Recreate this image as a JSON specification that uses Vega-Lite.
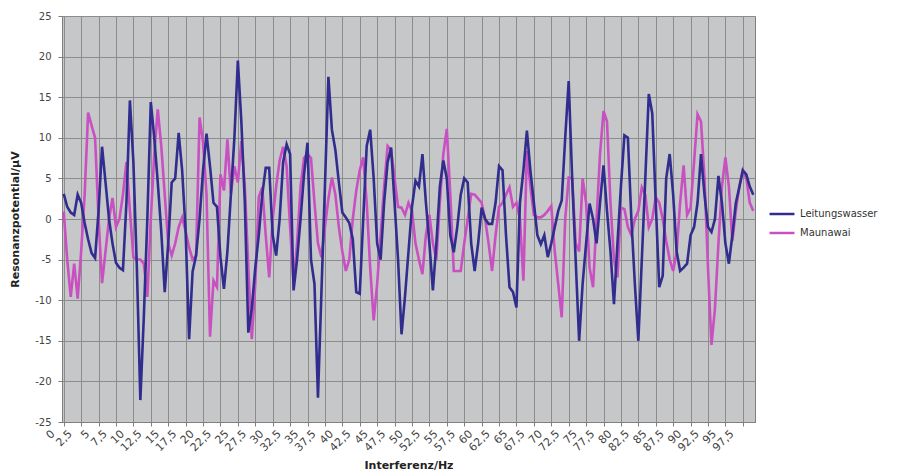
{
  "$schema": "https://vega.github.io/schema/vega-lite/v6.json",
  "width": 693,
  "height": 406,
  "autosize": {"type": "none"},
  "padding": {"left": 62, "top": 16, "right": 145, "bottom": 49},
  "background": "white",
  "config": {
    "view": {"fill": "#c6c7c9", "stroke": "#7f7f7f", "strokeWidth": 1},
    "font": "DejaVu Sans"
  },
  "data": {"values": [
    {"Hz":0,"Leitungswasser":3.1,"Maunawai":0.9},
    {"Hz":0.5,"Leitungswasser":1.5,"Maunawai":-5},
    {"Hz":1,"Leitungswasser":0.8,"Maunawai":-9.6},
    {"Hz":1.5,"Leitungswasser":0.5,"Maunawai":-5.5},
    {"Hz":2,"Leitungswasser":3.0,"Maunawai":-9.8},
    {"Hz":2.5,"Leitungswasser":2.0,"Maunawai":-4},
    {"Hz":3,"Leitungswasser":-0.5,"Maunawai":3},
    {"Hz":3.5,"Leitungswasser":-2.5,"Maunawai":13.1},
    {"Hz":4,"Leitungswasser":-4.2,"Maunawai":11.5},
    {"Hz":4.5,"Leitungswasser":-4.8,"Maunawai":10},
    {"Hz":5,"Leitungswasser":1,"Maunawai":0},
    {"Hz":5.5,"Leitungswasser":8.9,"Maunawai":-7.9},
    {"Hz":6,"Leitungswasser":4.5,"Maunawai":-4},
    {"Hz":6.5,"Leitungswasser":0,"Maunawai":0},
    {"Hz":7,"Leitungswasser":-3,"Maunawai":2.6},
    {"Hz":7.5,"Leitungswasser":-5.4,"Maunawai":-1},
    {"Hz":8,"Leitungswasser":-6,"Maunawai":0},
    {"Hz":8.5,"Leitungswasser":-6.3,"Maunawai":3},
    {"Hz":9,"Leitungswasser":2,"Maunawai":7},
    {"Hz":9.5,"Leitungswasser":14.6,"Maunawai":1},
    {"Hz":10,"Leitungswasser":7,"Maunawai":-4.7},
    {"Hz":10.5,"Leitungswasser":-6,"Maunawai":-5},
    {"Hz":11,"Leitungswasser":-22.3,"Maunawai":-5},
    {"Hz":11.5,"Leitungswasser":-12,"Maunawai":-5.5},
    {"Hz":12,"Leitungswasser":0,"Maunawai":-9.6},
    {"Hz":12.5,"Leitungswasser":14.4,"Maunawai":0},
    {"Hz":13,"Leitungswasser":10,"Maunawai":8},
    {"Hz":13.5,"Leitungswasser":4.5,"Maunawai":13.5},
    {"Hz":14,"Leitungswasser":-1.5,"Maunawai":9},
    {"Hz":14.5,"Leitungswasser":-9,"Maunawai":3},
    {"Hz":15,"Leitungswasser":-3,"Maunawai":-3},
    {"Hz":15.5,"Leitungswasser":4.5,"Maunawai":-4.5},
    {"Hz":16,"Leitungswasser":5,"Maunawai":-3},
    {"Hz":16.5,"Leitungswasser":10.6,"Maunawai":-1},
    {"Hz":17,"Leitungswasser":6,"Maunawai":0.2},
    {"Hz":17.5,"Leitungswasser":-1.5,"Maunawai":-1.5},
    {"Hz":18,"Leitungswasser":-14.8,"Maunawai":-3.5},
    {"Hz":18.5,"Leitungswasser":-6.5,"Maunawai":-5},
    {"Hz":19,"Leitungswasser":-4.5,"Maunawai":-4.5},
    {"Hz":19.5,"Leitungswasser":0,"Maunawai":12.5},
    {"Hz":20,"Leitungswasser":6,"Maunawai":9.5},
    {"Hz":20.5,"Leitungswasser":10.5,"Maunawai":3},
    {"Hz":21,"Leitungswasser":6.5,"Maunawai":-14.5},
    {"Hz":21.5,"Leitungswasser":2,"Maunawai":-7.6},
    {"Hz":22,"Leitungswasser":1.5,"Maunawai":-8.4},
    {"Hz":22.5,"Leitungswasser":-4.7,"Maunawai":5.5},
    {"Hz":23,"Leitungswasser":-8.6,"Maunawai":3.5},
    {"Hz":23.5,"Leitungswasser":-4,"Maunawai":9.8},
    {"Hz":24,"Leitungswasser":3,"Maunawai":3.1},
    {"Hz":24.5,"Leitungswasser":10,"Maunawai":6.5},
    {"Hz":25,"Leitungswasser":19.5,"Maunawai":4.5},
    {"Hz":25.5,"Leitungswasser":12,"Maunawai":9.6},
    {"Hz":26,"Leitungswasser":2,"Maunawai":4},
    {"Hz":26.5,"Leitungswasser":-14,"Maunawai":-6},
    {"Hz":27,"Leitungswasser":-11,"Maunawai":-14.8},
    {"Hz":27.5,"Leitungswasser":-6,"Maunawai":-8},
    {"Hz":28,"Leitungswasser":-2,"Maunawai":2.7},
    {"Hz":28.5,"Leitungswasser":3,"Maunawai":3.9},
    {"Hz":29,"Leitungswasser":6.3,"Maunawai":-2},
    {"Hz":29.5,"Leitungswasser":6.3,"Maunawai":-7.2},
    {"Hz":30,"Leitungswasser":-2,"Maunawai":0},
    {"Hz":30.5,"Leitungswasser":-4.5,"Maunawai":4},
    {"Hz":31,"Leitungswasser":0,"Maunawai":7.2},
    {"Hz":31.5,"Leitungswasser":7,"Maunawai":8.9},
    {"Hz":32,"Leitungswasser":9.2,"Maunawai":6.5},
    {"Hz":32.5,"Leitungswasser":8,"Maunawai":-1},
    {"Hz":33,"Leitungswasser":-8.8,"Maunawai":-8},
    {"Hz":33.5,"Leitungswasser":-5,"Maunawai":-3},
    {"Hz":34,"Leitungswasser":0,"Maunawai":4},
    {"Hz":34.5,"Leitungswasser":5.5,"Maunawai":7.5},
    {"Hz":35,"Leitungswasser":9.4,"Maunawai":8},
    {"Hz":35.5,"Leitungswasser":-5,"Maunawai":7.5},
    {"Hz":36,"Leitungswasser":-8,"Maunawai":2},
    {"Hz":36.5,"Leitungswasser":-22,"Maunawai":-3},
    {"Hz":37,"Leitungswasser":-9,"Maunawai":-4.7},
    {"Hz":37.5,"Leitungswasser":4,"Maunawai":-1},
    {"Hz":38,"Leitungswasser":17.5,"Maunawai":2.5},
    {"Hz":38.5,"Leitungswasser":11,"Maunawai":5.1},
    {"Hz":39,"Leitungswasser":8.5,"Maunawai":3},
    {"Hz":39.5,"Leitungswasser":4.5,"Maunawai":-1},
    {"Hz":40,"Leitungswasser":0.8,"Maunawai":-4},
    {"Hz":40.5,"Leitungswasser":0.2,"Maunawai":-6.4},
    {"Hz":41,"Leitungswasser":-0.5,"Maunawai":-5},
    {"Hz":41.5,"Leitungswasser":-2.5,"Maunawai":0},
    {"Hz":42,"Leitungswasser":-9,"Maunawai":3.5},
    {"Hz":42.5,"Leitungswasser":-9.2,"Maunawai":6},
    {"Hz":43,"Leitungswasser":0,"Maunawai":7.6},
    {"Hz":43.5,"Leitungswasser":9,"Maunawai":2},
    {"Hz":44,"Leitungswasser":11,"Maunawai":-6},
    {"Hz":44.5,"Leitungswasser":5,"Maunawai":-12.5},
    {"Hz":45,"Leitungswasser":-3,"Maunawai":-8},
    {"Hz":45.5,"Leitungswasser":-5,"Maunawai":-2},
    {"Hz":46,"Leitungswasser":2,"Maunawai":4},
    {"Hz":46.5,"Leitungswasser":7,"Maunawai":9},
    {"Hz":47,"Leitungswasser":8.8,"Maunawai":8.5},
    {"Hz":47.5,"Leitungswasser":2,"Maunawai":5},
    {"Hz":48,"Leitungswasser":-5,"Maunawai":1.5},
    {"Hz":48.5,"Leitungswasser":-14.2,"Maunawai":1.4},
    {"Hz":49,"Leitungswasser":-9.5,"Maunawai":0.5},
    {"Hz":49.5,"Leitungswasser":-4,"Maunawai":2},
    {"Hz":50,"Leitungswasser":1.5,"Maunawai":1},
    {"Hz":50.5,"Leitungswasser":4.7,"Maunawai":-3},
    {"Hz":51,"Leitungswasser":4,"Maunawai":-5},
    {"Hz":51.5,"Leitungswasser":8,"Maunawai":-6.8},
    {"Hz":52,"Leitungswasser":2,"Maunawai":-2},
    {"Hz":52.5,"Leitungswasser":-3,"Maunawai":0.5},
    {"Hz":53,"Leitungswasser":-8.8,"Maunawai":-3},
    {"Hz":53.5,"Leitungswasser":-3,"Maunawai":-5},
    {"Hz":54,"Leitungswasser":4,"Maunawai":2},
    {"Hz":54.5,"Leitungswasser":7.2,"Maunawai":8},
    {"Hz":55,"Leitungswasser":5,"Maunawai":11.1},
    {"Hz":55.5,"Leitungswasser":-2,"Maunawai":3},
    {"Hz":56,"Leitungswasser":-4.1,"Maunawai":-6.4},
    {"Hz":56.5,"Leitungswasser":-1,"Maunawai":-6.4},
    {"Hz":57,"Leitungswasser":3,"Maunawai":-6.4},
    {"Hz":57.5,"Leitungswasser":5,"Maunawai":-3},
    {"Hz":58,"Leitungswasser":4.5,"Maunawai":0},
    {"Hz":58.5,"Leitungswasser":-3,"Maunawai":3.1},
    {"Hz":59,"Leitungswasser":-6.4,"Maunawai":3},
    {"Hz":59.5,"Leitungswasser":-3,"Maunawai":2.5},
    {"Hz":60,"Leitungswasser":1.4,"Maunawai":2},
    {"Hz":60.5,"Leitungswasser":0,"Maunawai":0},
    {"Hz":61,"Leitungswasser":-0.6,"Maunawai":-3},
    {"Hz":61.5,"Leitungswasser":-0.6,"Maunawai":-6.4},
    {"Hz":62,"Leitungswasser":2,"Maunawai":-2},
    {"Hz":62.5,"Leitungswasser":6.5,"Maunawai":1.5},
    {"Hz":63,"Leitungswasser":6,"Maunawai":2},
    {"Hz":63.5,"Leitungswasser":-2,"Maunawai":3},
    {"Hz":64,"Leitungswasser":-8.4,"Maunawai":3.9},
    {"Hz":64.5,"Leitungswasser":-9,"Maunawai":1.5},
    {"Hz":65,"Leitungswasser":-10.9,"Maunawai":2},
    {"Hz":65.5,"Leitungswasser":2,"Maunawai":0},
    {"Hz":66,"Leitungswasser":6,"Maunawai":-7.6},
    {"Hz":66.5,"Leitungswasser":10.9,"Maunawai":8.4},
    {"Hz":67,"Leitungswasser":6,"Maunawai":4},
    {"Hz":67.5,"Leitungswasser":2,"Maunawai":0.5},
    {"Hz":68,"Leitungswasser":-2,"Maunawai":0.2},
    {"Hz":68.5,"Leitungswasser":-3.1,"Maunawai":0.2},
    {"Hz":69,"Leitungswasser":-2,"Maunawai":0.5},
    {"Hz":69.5,"Leitungswasser":-4.7,"Maunawai":1},
    {"Hz":70,"Leitungswasser":-3,"Maunawai":1.6},
    {"Hz":70.5,"Leitungswasser":-1,"Maunawai":-4},
    {"Hz":71,"Leitungswasser":1,"Maunawai":-8},
    {"Hz":71.5,"Leitungswasser":2.3,"Maunawai":-12.1},
    {"Hz":72,"Leitungswasser":10,"Maunawai":0},
    {"Hz":72.5,"Leitungswasser":17,"Maunawai":5.1},
    {"Hz":73,"Leitungswasser":5,"Maunawai":5},
    {"Hz":73.5,"Leitungswasser":-5,"Maunawai":-3},
    {"Hz":74,"Leitungswasser":-15,"Maunawai":-4},
    {"Hz":74.5,"Leitungswasser":-8,"Maunawai":5},
    {"Hz":75,"Leitungswasser":-3,"Maunawai":2},
    {"Hz":75.5,"Leitungswasser":1.9,"Maunawai":-6},
    {"Hz":76,"Leitungswasser":0,"Maunawai":-8.4},
    {"Hz":76.5,"Leitungswasser":-3,"Maunawai":0},
    {"Hz":77,"Leitungswasser":2,"Maunawai":8},
    {"Hz":77.5,"Leitungswasser":6.6,"Maunawai":13.3},
    {"Hz":78,"Leitungswasser":1,"Maunawai":12},
    {"Hz":78.5,"Leitungswasser":-4,"Maunawai":2},
    {"Hz":79,"Leitungswasser":-10.5,"Maunawai":-5},
    {"Hz":79.5,"Leitungswasser":-3,"Maunawai":-7.2},
    {"Hz":80,"Leitungswasser":4,"Maunawai":1.4},
    {"Hz":80.5,"Leitungswasser":10.3,"Maunawai":1.2},
    {"Hz":81,"Leitungswasser":10,"Maunawai":-1},
    {"Hz":81.5,"Leitungswasser":0,"Maunawai":-2},
    {"Hz":82,"Leitungswasser":-8,"Maunawai":0},
    {"Hz":82.5,"Leitungswasser":-15,"Maunawai":1},
    {"Hz":83,"Leitungswasser":-5,"Maunawai":3.9},
    {"Hz":83.5,"Leitungswasser":5,"Maunawai":3},
    {"Hz":84,"Leitungswasser":15.4,"Maunawai":-1},
    {"Hz":84.5,"Leitungswasser":13,"Maunawai":0},
    {"Hz":85,"Leitungswasser":2,"Maunawai":2.7},
    {"Hz":85.5,"Leitungswasser":-8.4,"Maunawai":2},
    {"Hz":86,"Leitungswasser":-7,"Maunawai":0},
    {"Hz":86.5,"Leitungswasser":5,"Maunawai":-2.7},
    {"Hz":87,"Leitungswasser":8,"Maunawai":-5},
    {"Hz":87.5,"Leitungswasser":3,"Maunawai":-6.4},
    {"Hz":88,"Leitungswasser":-4,"Maunawai":-4},
    {"Hz":88.5,"Leitungswasser":-6.4,"Maunawai":2},
    {"Hz":89,"Leitungswasser":-6,"Maunawai":6.6},
    {"Hz":89.5,"Leitungswasser":-5.5,"Maunawai":0.5},
    {"Hz":90,"Leitungswasser":-2,"Maunawai":1.4},
    {"Hz":90.5,"Leitungswasser":-1,"Maunawai":7},
    {"Hz":91,"Leitungswasser":2,"Maunawai":12.9},
    {"Hz":91.5,"Leitungswasser":8,"Maunawai":12},
    {"Hz":92,"Leitungswasser":3,"Maunawai":5},
    {"Hz":92.5,"Leitungswasser":-1,"Maunawai":-6},
    {"Hz":93,"Leitungswasser":-1.6,"Maunawai":-15.5},
    {"Hz":93.5,"Leitungswasser":0,"Maunawai":-11},
    {"Hz":94,"Leitungswasser":5.3,"Maunawai":-3},
    {"Hz":94.5,"Leitungswasser":2,"Maunawai":4},
    {"Hz":95,"Leitungswasser":-3,"Maunawai":7.6},
    {"Hz":95.5,"Leitungswasser":-5.5,"Maunawai":4},
    {"Hz":96,"Leitungswasser":-2,"Maunawai":-2.7},
    {"Hz":96.5,"Leitungswasser":2,"Maunawai":1},
    {"Hz":97,"Leitungswasser":3.9,"Maunawai":4},
    {"Hz":97.5,"Leitungswasser":6,"Maunawai":6},
    {"Hz":98,"Leitungswasser":5.5,"Maunawai":5},
    {"Hz":98.5,"Leitungswasser":4,"Maunawai":2},
    {"Hz":99,"Leitungswasser":3,"Maunawai":1}
  ]},
  "transform": [{"fold": ["Leitungswasser", "Maunawai"], "as": ["Serie", "Wert"]}],
  "encoding": {
    "x": {
      "field": "Hz", "type": "quantitative",
      "scale": {"domain": [-0.25, 99.25], "nice": false, "zero": false},
      "axis": {
        "values": [0,2.5,5,7.5,10,12.5,15,17.5,20,22.5,25,27.5,30,32.5,35,37.5,40,42.5,45,47.5,50,52.5,55,57.5,60,62.5,65,67.5,70,72.5,75,77.5,80,82.5,85,87.5,90,92.5,95,97.5],
        "labelExpr": "replace(toString(datum.value), '.', ',')",
        "labelAngle": -45, "labelAlign": "right", "labelBaseline": "middle",
        "labelOverlap": false, "labelFlush": false, "labelOffset": -11,
        "labelFontSize": 11, "labelColor": "#444444", "labelPadding": 6,
        "grid": true, "gridColor": "#8c8c8c", "gridWidth": 1,
        "tickSize": 4, "tickColor": "#7f7f7f", "domainColor": "#7f7f7f",
        "title": "Interferenz/Hz", "titleFontSize": 11, "titleFontWeight": "bold",
        "titleColor": "#222222", "titlePadding": 7
      }
    },
    "y": {
      "field": "Wert", "type": "quantitative",
      "scale": {"domain": [-25, 25], "nice": false},
      "axis": {
        "values": [-25,-20,-15,-10,-5,0,5,10,15,20,25],
        "labelExpr": "toString(datum.value)",
        "labelFontSize": 10, "labelColor": "#444444", "labelPadding": 7,
        "grid": true, "gridColor": "#8c8c8c", "gridWidth": 1,
        "tickSize": 4, "tickColor": "#7f7f7f", "domainColor": "#7f7f7f",
        "title": "Resonanzpotential/µV", "titleFontSize": 11, "titleFontWeight": "bold",
        "titleColor": "#222222", "titlePadding": 14
      }
    },
    "color": {
      "field": "Serie", "type": "nominal",
      "scale": {"domain": ["Leitungswasser", "Maunawai"], "range": ["#302d8f", "#c950c1"]},
      "legend": {
        "orient": "none", "legendX": 706, "legendY": 184, "title": null,
        "symbolType": "stroke", "symbolSize": 620, "symbolStrokeWidth": 2.5,
        "labelFontSize": 10, "labelColor": "#333333", "rowPadding": 0, "labelOffset": 4
      }
    }
  },
  "layer": [
    {"transform": [{"filter": "datum.Serie === 'Maunawai'"}], "mark": {"type": "line", "strokeWidth": 2.6}},
    {"transform": [{"filter": "datum.Serie === 'Leitungswasser'"}], "mark": {"type": "line", "strokeWidth": 2.6}}
  ]
}
